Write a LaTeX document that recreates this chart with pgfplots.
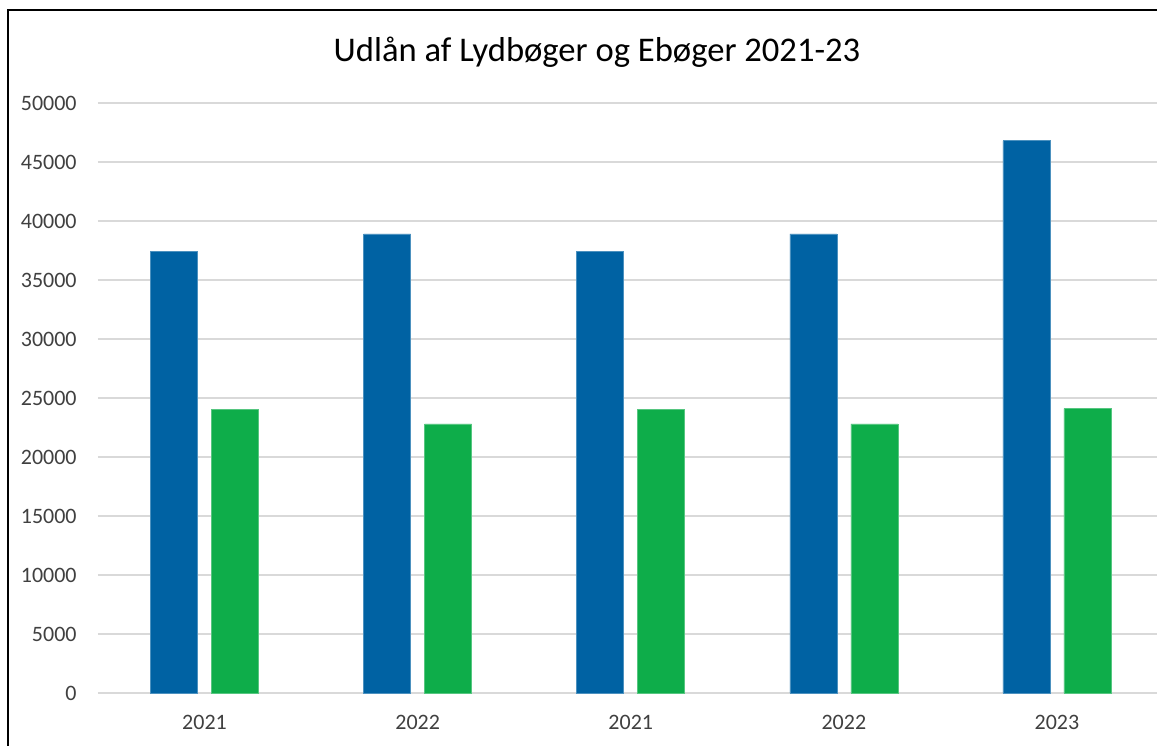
\documentclass[border=0pt]{standalone}
\usepackage{pgfplots}
\pgfplotsset{compat=1.18}
\usepackage{fontspec}
\setmainfont{Carlito}
\definecolor{barblue}{RGB}{0,98,163}
\definecolor{bargreen}{RGB}{14,173,74}
\definecolor{gridgray}{RGB}{217,217,217}
\definecolor{ticktext}{RGB}{64,64,64}
\begin{document}
\begin{tikzpicture}
\path[use as bounding box, clip] (0,0) rectangle (578.5pt,372.5pt);
\fill[white] (0,0) rectangle (578.5pt,372.5pt);
\draw[black, line width=1.1pt] (4pt,-20pt) -- (4pt,367.5pt) -- (620pt,367.5pt);
\node[anchor=base, font=\fontsize{17.3}{20}\selectfont] at (298.5pt,341.5pt) {Udlån af Lydbøger og Ebøger 2021-23};
\begin{axis}[
  at={(49pt,26pt)}, anchor=south west,
  scale only axis,
  width=532.75pt, height=295pt,
  xmin=-0.5, xmax=4.5,
  ymin=0, ymax=50000,
  ytick={0,5000,...,50000},
  xtick={0,1,2,3,4},
  xticklabels={2021,2022,2021,2022,2023},
  scaled y ticks=false,
  /pgf/number format/1000 sep={},
  /pgf/number format/assume math mode=true,
  axis line style={draw=none},
  major tick length=0pt,
  ymajorgrids,
  grid style={gridgray, line width=0.75pt},
  tick label style={font=\fontsize{11}{13}\selectfont, text=ticktext},
  yticklabel style={anchor=east, inner sep=0pt, xshift=-10.5pt},
  xticklabel style={anchor=north, inner sep=0pt, yshift=-11pt},
  ybar, bar width=23.5pt,
  clip=false,
]
\addplot[fill=barblue, draw=barblue!70!white, line width=0.3pt, bar shift=-15.25pt]
  coordinates {(0,37450) (1,38900) (2,37450) (3,38900) (4,46800)};
\addplot[fill=bargreen, draw=bargreen!70!white, line width=0.3pt, bar shift=15.25pt]
  coordinates {(0,24050) (1,22800) (2,24050) (3,22800) (4,24100)};
\end{axis}
\end{tikzpicture}
\end{document}
